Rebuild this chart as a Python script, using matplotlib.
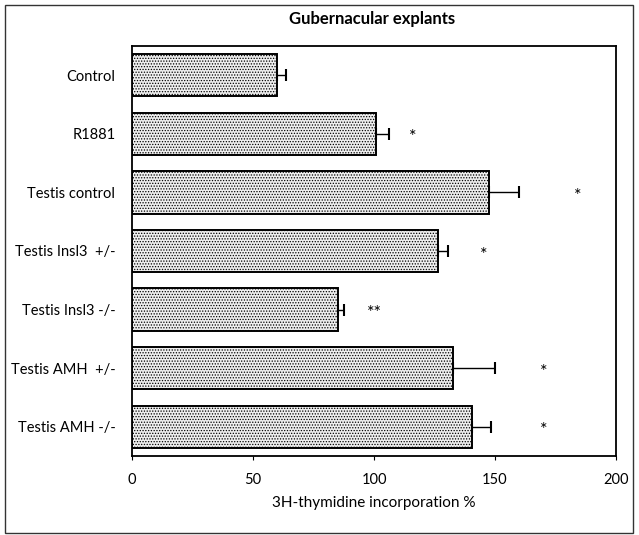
import matplotlib.pyplot as plt
from matplotlib.patches import Rectangle

# data
groups = ["Control", "R1881", "Testis control", "Testis Insl3  +/-",
          "Testis Insl3 -/-", "Testis AMH  +/-", "Testis AMH -/-"]
values = [60, 101, 147.5, 126.5, 85, 132.5, 140.5]
errors = [3.5, 5, 12.5, 4, 2.5, 17.5, 8]
stars = ["", "*", "*", "*", "**", "*", "*"]
star_x = [0, 116, 184, 145.5, 100, 170, 170]
xticks = [0, 50, 100, 150, 200]

plt.rcParams['font.family'] = ['Lato', 'DejaVu Sans']
plt.rcParams['hatch.color'] = '#9a9a9a'
plt.rcParams['hatch.linewidth'] = 0.6

fig = plt.figure(figsize=(6.39, 5.35), dpi=100)
ax = fig.add_axes([0.2066, 0.1477, 0.964 - 0.2066, 0.914 - 0.1477])

y = list(range(len(groups)))
ax.barh(y, values, height=0.72, color="#eeeeee", edgecolor="black",
        linewidth=1.4, hatch="......")
ax.errorbar(values, y, xerr=[[0] * len(values), errors], fmt="none",
            ecolor="black", elinewidth=1, capsize=4, capthick=1.5)

for yi, s, sx in zip(y, stars, star_x):
    if s:
        ax.text(sx, yi + 0.06, s, ha="center", va="center", fontsize=13)

ax.set_xlim(0, 200)
ax.set_ylim(6.5, -0.5)
ax.set_xticks(xticks)
ax.set_yticks(y)
ax.set_yticklabels(groups, fontsize=10.5)
ax.tick_params(axis="y", length=0, pad=12)
ax.tick_params(axis="x", length=3, labelsize=10.5, pad=9)
for sp in ax.spines.values():
    sp.set_linewidth(1.3)

ax.set_xlabel("3H-thymidine incorporation %", fontsize=11, labelpad=7)
fig.text(0.582, 0.965, "Gubernacular explants", ha="center", va="center",
         fontsize=12, fontweight="bold")

# outer frame around the whole figure
fig.patches.append(Rectangle((0.008, 0.004), 0.982, 0.986,
                             transform=fig.transFigure, fill=False,
                             edgecolor="#333333", linewidth=1))

fig.savefig("out.png", dpi=100)
